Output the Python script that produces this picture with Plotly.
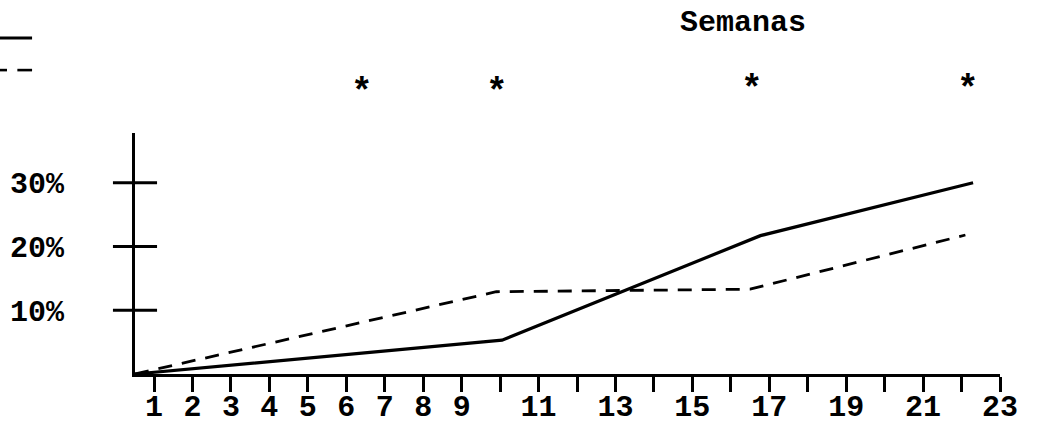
import plotly.graph_objects as go

# ---- data ----
weeks_tick = list(range(1, 24))
week_labels = ["1", "2", "3", "4", "5", "6", "7", "8", "9", "", "11", "", "13", "", "15", "", "17", "", "19", "", "21", "", "23"]
y_ticks = [10, 20, 30]
y_labels = ["10%", "20%", "30%"]

solid_x = [0.506, 10.05, 16.77, 22.3]
solid_y = [0.0, 5.3, 21.7, 30.0]
dashed_x = [0.506, 9.9, 16.5, 22.1]
dashed_y = [0.0, 12.9, 13.3, 21.8]

star_x = [6.41, 9.92, 16.55, 22.17]
star_y = [44.0, 44.0, 44.5, 44.5]

X0 = 0.506
Y_MAX = 37.8
FONT = "Liberation Mono"

fig = go.Figure()

fig.add_trace(go.Scatter(x=dashed_x, y=dashed_y, mode="lines",
                         line=dict(color="black", width=2.8, dash="14px,10px"),
                         cliponaxis=False, showlegend=False))
fig.add_trace(go.Scatter(x=solid_x, y=solid_y, mode="lines",
                         line=dict(color="black", width=3.2),
                         cliponaxis=False, showlegend=False))
# cross ticks on y axis
fig.add_trace(go.Scatter(x=[X0] * len(y_ticks), y=y_ticks, mode="markers",
                         marker=dict(symbol="line-ew", size=31.5,
                                     line=dict(color="black", width=2.8)),
                         cliponaxis=False, showlegend=False))

# stars (above the plot area: y given in % units, placed via paper fraction)
for sx, sy in zip(star_x, star_y):
    fig.add_annotation(x=sx, y=sy / Y_MAX, xref="x", yref="paper", text="<b>*</b>",
                       showarrow=False, xanchor="center", yanchor="middle",
                       font=dict(family=FONT, size=36, color="black"))

# legend sample lines (cropped at the left edge)
fig.add_shape(type="line", xref="paper", yref="paper",
              x0=-0.16, x1=-0.119, y0=1.394, y1=1.394,
              line=dict(color="black", width=3))
fig.add_shape(type="line", xref="paper", yref="paper",
              x0=-0.16, x1=-0.148, y0=1.261, y1=1.261,
              line=dict(color="black", width=2.6))
fig.add_shape(type="line", xref="paper", yref="paper",
              x0=-0.136, x1=-0.119, y0=1.261, y1=1.261,
              line=dict(color="black", width=2.6))

fig.update_layout(
    width=1039, height=424,
    margin=dict(l=135, r=39, t=133, b=50, autoexpand=False),
    paper_bgcolor="white", plot_bgcolor="white",
    font=dict(family=FONT, size=30, color="black", weight="bold"),
    showlegend=False,
    title=dict(text="Semanas", x=743 / 1039, xref="container", xanchor="center",
               y=1 - 20 / 424, yref="container", yanchor="middle",
               font=dict(family=FONT, size=30, color="black", weight="bold")),
    xaxis=dict(range=[X0, 23], showgrid=False, zeroline=False, automargin=False,
               showline=True, linecolor="black", linewidth=3,
               tickmode="array", tickvals=weeks_tick, ticktext=week_labels,
               ticks="outside", ticklen=15, tickwidth=2.5, tickcolor="black",
               ticklabelstandoff=-12,
               tickfont=dict(family=FONT, size=30, color="black", weight="bold")),
    yaxis=dict(range=[0, Y_MAX], showgrid=False, zeroline=False, automargin=False,
               showline=True, linecolor="black", linewidth=3,
               tickmode="array", tickvals=y_ticks, ticktext=y_labels,
               ticks="", ticklabelstandoff=62,
               tickfont=dict(family=FONT, size=30, color="black", weight="bold")),
)

fig.write_html("out.html")
